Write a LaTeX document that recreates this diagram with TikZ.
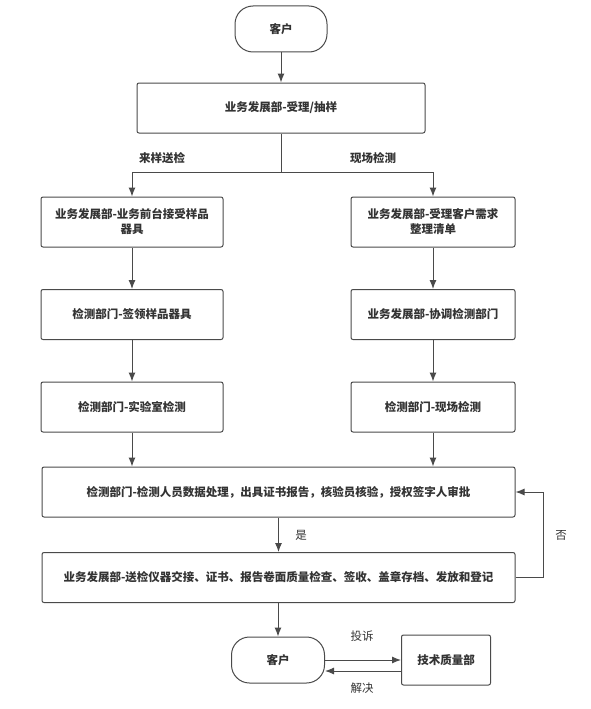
\documentclass[tikz,border=0pt]{standalone}
\usepackage{fontspec}
\setmainfont{Noto Sans CJK SC}
\usetikzlibrary{arrows.meta}

\definecolor{linegray}{HTML}{4A4A4A}
\definecolor{textgray}{HTML}{333333}

\begin{document}
\begin{tikzpicture}[x=1pt, y=-1pt,
    box/.style={draw=linegray, line width=1pt, rounded corners=2pt, fill=white, inner sep=2pt,
        align=center, text=textgray, font=\fontsize{11.5}{15}\selectfont\bfseries},
    client/.style={box, rounded corners=18pt, minimum width=92pt, minimum height=46pt},
    tag/.style={text=textgray, font=\fontsize{11.5}{15}\selectfont},
    arr/.style={draw=linegray, line width=1pt, -{Latex[length=9pt,width=7pt]}}]
    \useasboundingbox (0, 0) rectangle (590, 709);
    \node[client] (client1) at (281, 29) {客户};
    \node[box, minimum width=288pt, minimum height=50pt] (accept) at (281, 108) {业务发展部-受理/抽样};
    \coordinate (split) at (281, 172);
    \node[box, minimum width=182pt, minimum height=50pt] (sample1) at (132, 222) {业务发展部-业务前台接受样品\\器具};
    \node[box, minimum width=182pt, minimum height=50pt] (sample2) at (132, 314.5) {检测部门-签领样品器具};
    \node[box, minimum width=182pt, minimum height=50pt] (sample3) at (132, 407) {检测部门-实验室检测};
    \node[box, minimum width=164pt, minimum height=50pt] (site1) at (433, 222) {业务发展部-受理客户需求\\整理清单};
    \node[box, minimum width=164pt, minimum height=50pt] (site2) at (433, 314.5) {业务发展部-协调检测部门};
    \node[box, minimum width=164pt, minimum height=50pt] (site3) at (433, 407) {检测部门-现场检测};
    \node[box, minimum width=473pt, minimum height=50pt] (review) at (278.5, 492) {检测部门-检测人员数据处理，出具证书报告，核验员核验，授权签字人审批};
    \node[box, minimum width=473pt, minimum height=50pt] (issue) at (278.5, 577.5) {业务发展部-送检仪器交接、证书、报告卷面质量检查、签收、盖章存档、发放和登记};
    \node[client, minimum width=93pt] (client2) at (278, 660) {客户};
    \node[box, minimum width=89pt, minimum height=50pt] (quality) at (446, 660) {技术质量部};
    % labels
    \node[tag, font=\fontsize{11.5}{15}\selectfont\bfseries] (lsample) at (162, 158) {来样送检};
    \node[tag, font=\fontsize{11.5}{15}\selectfont\bfseries] (lsite) at (373, 158) {现场检测};
    \node[tag] (lyes) at (301, 535) {是};
    \node[tag] (lno) at (561, 535) {否};
    \node[tag] (lcomplain) at (362, 636) {投诉};
    \node[tag] (lsolve) at (362, 688) {解决};
    % connectors
    \draw[arr] (client1) -- (accept);
    \draw[draw=linegray, line width=1pt] (accept) -- (split);
    \draw[arr] (split) -| (sample1);
    \draw[arr] (split) -| (site1);
    \draw[arr] (sample1) -- (sample2);
    \draw[arr] (sample2) -- (sample3);
    \draw[arr] (sample3) -- (sample3 |- review.north);
    \draw[arr] (site1) -- (site2);
    \draw[arr] (site2) -- (site3);
    \draw[arr] (site3) -- (site3 |- review.north);
    \draw[arr] (review) -- (issue);
    \draw[arr] (issue.east) -- ++(28, 0) |- (review.east);
    \draw[arr] (issue.south -| client2) -- (client2);
    \draw[arr] (client2.east) -- (quality.west);
    \draw[arr] ([yshift=-11pt]quality.west) -- ([yshift=-11pt]client2.east);
\end{tikzpicture}
\end{document}
